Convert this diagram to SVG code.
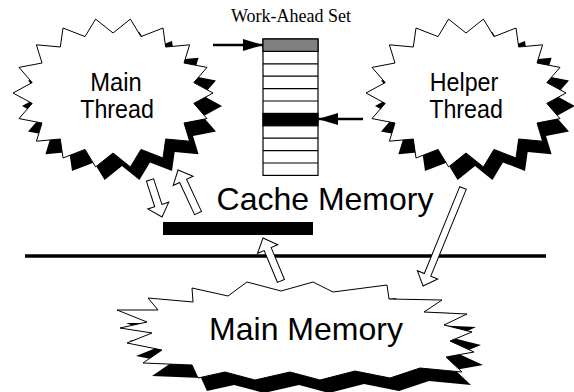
<svg xmlns="http://www.w3.org/2000/svg" xmlns:xlink="http://www.w3.org/1999/xlink" width="574" height="392" viewBox="0 0 574 392">
<style>
.blob{fill:#fff;stroke:#000;stroke-width:1}
.shadow{fill:#000;stroke:none}
.lbl{font-family:"Liberation Sans",Arial,sans-serif;fill:#000;text-anchor:middle}
.ser{font-family:"Liberation Serif","Times New Roman",serif;fill:#000;text-anchor:middle}
.harrow{fill:#fff;stroke:#000;stroke-width:1}
.ptr{stroke:#000;stroke-width:2.5;fill:none}
.cell{fill:#fff;stroke:#000;stroke-width:1.2}
</style>
<defs>
<polygon id="threadStar" points="95.6,19.1 113,33 130.4,19.1 141,36.6 163,28 165.7,47 189.6,44.8 184,63 207,67.4 193.8,82.6 213,93 193.8,103.4 207,118.6 184,123 189.6,141.2 165.7,139 163,158 141,149.4 130.4,166.9 113,153 95.6,166.9 85,149.4 63,158 60.3,139 36.4,141.2 42,123 19,118.6 32.2,103.4 13,93 32.2,82.6 19,67.4 42,63 36.4,44.8 60.3,47 63,28 85,36.6"/>
<polygon id="memStar" points="192,288 228,296 247,282 281,291 313,282 333,292 387,285 389,299 442,300 424,312 467,314 444,325 472,332 450,341 474,352 446,357 462,372 420,368 390,378 355,371 320,380 290,372 255,380 225,372 198,378 192,365 143,363 162,350 127,343 152,333 120,328 147,322 117,310 158,310 148,298 193,302"/>
<marker id="ah" markerUnits="userSpaceOnUse" markerWidth="22" markerHeight="12" refX="20" refY="6" orient="auto">
<polygon points="0,0 20,6 0,12" fill="#000"/>
</marker>
</defs>

<line x1="25" y1="256" x2="546" y2="256" stroke="#000" stroke-width="3.5"/>

<g id="main-thread">
<use xlink:href="#threadStar" class="shadow" transform="translate(9,13)"/>
<use xlink:href="#threadStar" class="blob"/>
<text class="lbl" font-size="25" transform="translate(116,91) scale(0.95,1)">Main</text>
<text class="lbl" font-size="25" transform="translate(117,118) scale(0.93,1)">Thread</text>
</g>

<g id="helper-thread">
<use xlink:href="#threadStar" class="shadow" transform="translate(362,13)"/>
<use xlink:href="#threadStar" class="blob" transform="translate(353,0)"/>
<text class="lbl" font-size="25" transform="translate(464,91) scale(0.93,1)">Helper</text>
<text class="lbl" font-size="25" transform="translate(466,118) scale(0.93,1)">Thread</text>
</g>

<g id="main-memory">
<use xlink:href="#memStar" class="shadow" transform="translate(9,13)"/>
<use xlink:href="#memStar" class="blob"/>
<text class="lbl" font-size="32" x="306" y="340">Main Memory</text>
</g>

<g id="cache-memory">
<text class="lbl" font-size="32" x="325" y="210">Cache Memory</text>
<rect x="163" y="222" width="150" height="13" fill="#000"/>
</g>

<g id="work-ahead-set">
<text class="ser" font-size="18" x="291" y="22">Work-Ahead Set</text>
<rect class="cell" x="263" y="39" width="55" height="136.4"/>
<rect x="263" y="39" width="55" height="12.4" fill="#808080" stroke="#000" stroke-width="1.2"/>
<rect x="263" y="113.4" width="55" height="12.4" fill="#000" stroke="#000" stroke-width="1.2"/>
<g stroke="#000" stroke-width="1.2">
<line x1="263" y1="63.8" x2="318" y2="63.8"/>
<line x1="263" y1="76.2" x2="318" y2="76.2"/>
<line x1="263" y1="88.6" x2="318" y2="88.6"/>
<line x1="263" y1="101" x2="318" y2="101"/>
<line x1="263" y1="138.2" x2="318" y2="138.2"/>
<line x1="263" y1="150.6" x2="318" y2="150.6"/>
<line x1="263" y1="163" x2="318" y2="163"/>
</g>
</g>

<g id="connectors">
<line class="ptr" x1="213" y1="45" x2="263" y2="45" marker-end="url(#ah)"/>
<line class="ptr" x1="363" y1="119" x2="318" y2="119" marker-end="url(#ah)"/>
<polygon class="harrow" transform="translate(150,180) rotate(72)" points="0,-3.8 26.9,-3.8 26.9,-11 38.9,0 26.9,11 26.9,3.8 0,3.8"/>
<polygon class="harrow" transform="translate(198,213) rotate(-114.9)" points="0,-3.8 35.4,-3.8 35.4,-11 47.4,0 35.4,11 35.4,3.8 0,3.8"/>
<polygon class="harrow" transform="translate(281,281) rotate(-112.7)" points="0,-3.8 34.6,-3.8 34.6,-11 46.6,0 34.6,11 34.6,3.8 0,3.8"/>
<polygon class="harrow" transform="translate(463,188) rotate(112.2)" points="0,-3.5 93.8,-3.5 93.8,-11 105.8,0 93.8,11 93.8,3.5 0,3.5"/>
</g>
</svg>
